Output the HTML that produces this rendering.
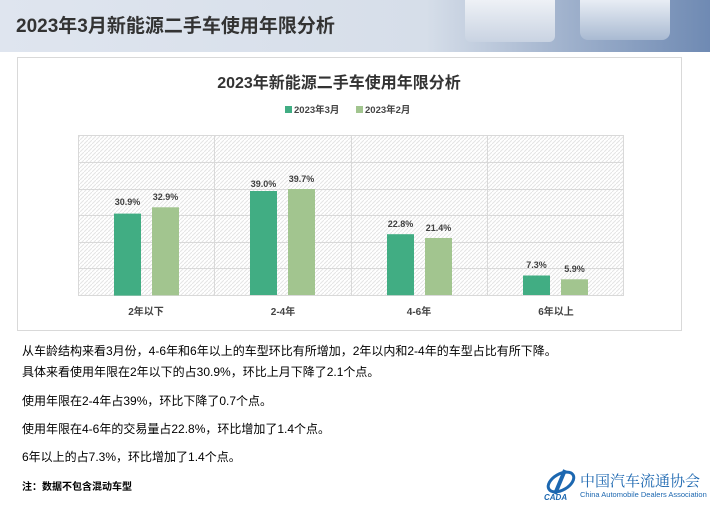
<!DOCTYPE html>
<html><head><meta charset="utf-8"><style>
body{margin:0;width:710px;height:508px;background:#fff;font-family:"Liberation Sans","Noto Sans CJK SC",sans-serif;position:relative;overflow:hidden}
.hdr{position:absolute;left:0;top:0;width:710px;height:52px;background:linear-gradient(90deg,#dfe5ef 0%,#d6dee9 60%,#9fb1cc 80%,#6f8ab3 100%)}
.hdr h1{margin:0;position:absolute;left:16px;top:11px;font-size:19px;font-weight:bold;color:#333}
.box{position:absolute;left:17px;top:57px;width:663px;height:272px;border:1px solid #d9d9d9}
.t{position:absolute;font-size:12px;color:#000;white-space:nowrap}
</style></head><body>
<div class="hdr"><h1>2023年3月新能源二手车使用年限分析</h1>
<div style="position:absolute;left:465px;top:0;width:90px;height:42px;background:linear-gradient(#eef1f6,#c9d3e2);border-radius:0 0 6px 6px"></div>
<div style="position:absolute;left:580px;top:0;width:90px;height:40px;background:linear-gradient(#e8edf4,#a9bad2);border-radius:0 0 8px 8px"></div>
</div>
<div class="box"></div>
<svg style="position:absolute;left:0;top:0" width="710" height="340">
<defs><pattern id="h" width="4" height="4" patternUnits="userSpaceOnUse"><rect width="4" height="4" fill="#fff"/><path d="M0 4L4 0" stroke="#e4e4e4" stroke-width="1"/></pattern></defs>
<text x="339" y="88" text-anchor="middle" font-size="16" font-weight="bold" fill="#333" font-family="Liberation Sans,Noto Sans CJK SC,sans-serif">2023年新能源二手车使用年限分析</text>
<rect x="285" y="106" width="7" height="7" fill="#41ad83"/>
<text x="294" y="113" font-size="9.5" font-weight="bold" fill="#444" font-family="Liberation Sans,Noto Sans CJK SC,sans-serif">2023年3月</text>
<rect x="356" y="106" width="7" height="7" fill="#a2c58f"/>
<text x="365" y="113" font-size="9.5" font-weight="bold" fill="#444" font-family="Liberation Sans,Noto Sans CJK SC,sans-serif">2023年2月</text>
<rect x="78" y="135" width="546" height="160" fill="url(#h)"/>
<g stroke="#d9d9d9" stroke-width="1">
<line x1="78" y1="135.5" x2="624" y2="135.5"/><line x1="78" y1="162.5" x2="624" y2="162.5"/><line x1="78" y1="189.5" x2="624" y2="189.5"/><line x1="78" y1="215.5" x2="624" y2="215.5"/><line x1="78" y1="242.5" x2="624" y2="242.5"/><line x1="78" y1="268.5" x2="624" y2="268.5"/><line x1="78" y1="295.5" x2="624" y2="295.5"/>
<line x1="78.5" y1="135" x2="78.5" y2="296"/><line x1="214.5" y1="135" x2="214.5" y2="296"/><line x1="351.5" y1="135" x2="351.5" y2="296"/><line x1="487.5" y1="135" x2="487.5" y2="296"/><line x1="623.5" y1="135" x2="623.5" y2="296"/>
</g>
<g fill="#41ad83"><rect x="114" y="213.6" width="27" height="82"/><rect x="250" y="191" width="27" height="104"/><rect x="387" y="234.2" width="27" height="61"/><rect x="523" y="275.5" width="27" height="19.5"/></g>
<g fill="#a2c58f"><rect x="152" y="207.3" width="27" height="88"/><rect x="288" y="189" width="27" height="106"/><rect x="425" y="238" width="27" height="57"/><rect x="561" y="279.3" width="27" height="15.7"/></g>
<g font-size="9" font-weight="bold" fill="#404040" text-anchor="middle" font-family="Liberation Sans,sans-serif">
<text x="127.5" y="205">30.9%</text><text x="165.5" y="200">32.9%</text>
<text x="263.5" y="187">39.0%</text><text x="301.5" y="182">39.7%</text>
<text x="400.5" y="227">22.8%</text><text x="438.5" y="231">21.4%</text>
<text x="536.5" y="268">7.3%</text><text x="574.5" y="272">5.9%</text>
</g>
<g font-size="10" font-weight="bold" fill="#444" text-anchor="middle" font-family="Liberation Sans,Noto Sans CJK SC,sans-serif">
<text x="146" y="315">2年以下</text><text x="283" y="315">2-4年</text><text x="419" y="315">4-6年</text><text x="556" y="315">6年以上</text>
</g>
</svg>
<div class="t" style="left:22px;top:342px">从车龄结构来看3月份，4-6年和6年以上的车型环比有所增加，2年以内和2-4年的车型占比有所下降。</div>
<div class="t" style="left:22px;top:363px">具体来看使用年限在2年以下的占30.9%，环比上月下降了2.1个点。</div>
<div class="t" style="left:22px;top:392px">使用年限在2-4年占39%，环比下降了0.7个点。</div>
<div class="t" style="left:22px;top:420px">使用年限在4-6年的交易量占22.8%，环比增加了1.4个点。</div>
<div class="t" style="left:22px;top:448px">6年以上的占7.3%，环比增加了1.4个点。</div>
<div class="t" style="left:22px;top:478px;font-size:10px;font-weight:bold">注：数据不包含混动车型</div>
<svg style="position:absolute;left:543px;top:468px" width="36" height="34"><ellipse cx="18" cy="14" rx="14" ry="8" fill="none" stroke="#1c67b0" stroke-width="3" transform="rotate(-30 18 14)"/><path d="M22 2L12 26" stroke="#1c67b0" stroke-width="4"/><text x="1" y="32" font-size="8" font-style="italic" font-weight="bold" fill="#1c67b0" font-family="Liberation Sans,sans-serif">CADA</text></svg>
<div style="position:absolute;left:580px;top:470px;font-size:15px;color:#1c67b0;font-family:'Noto Serif CJK SC',serif;white-space:nowrap">中国汽车流通协会</div>
<div style="position:absolute;left:580px;top:490px;font-size:7.5px;color:#1c67b0;white-space:nowrap">China Automobile Dealers Association</div>
</body></html>
